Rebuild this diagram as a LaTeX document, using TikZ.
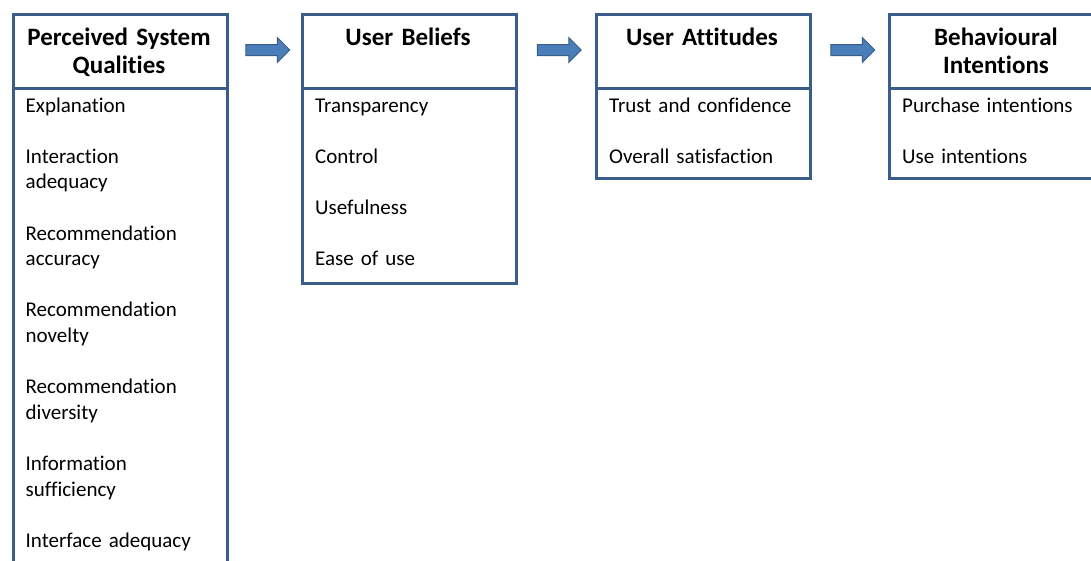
\documentclass[tikz,border=0pt]{standalone}
\usepackage{fontspec}
\setmainfont{Carlito}[Ligatures=NoCommon, WordSpace=0.85]
\usetikzlibrary{shapes.arrows}
\definecolor{bordc}{HTML}{3A5D8C}
\definecolor{arrfill}{HTML}{4A7EBB}
\definecolor{arrdraw}{HTML}{385D8A}
\tikzset{
  frame/.style={draw=bordc, line width=3pt, fill=white, inner sep=0pt, anchor=north west, minimum width=214pt},
  headtxt/.style={font=\bfseries\fontsize{25}{28.3}\selectfont, align=center, text width=205pt, anchor=base, inner sep=0pt},
  itemtxt/.style={font=\fontsize{21}{25.6}\selectfont, align=left, text width=200pt, anchor=base west, inner sep=0pt},
  flow/.style={single arrow, fill=arrfill, draw=arrdraw, line width=1pt, inner xsep=0pt, inner ysep=5pt,
    single arrow head extend=7pt, minimum height=44pt, single arrow head indent=0pt}
}
\begin{document}
\begin{tikzpicture}[x=1pt,y=-1pt]
\useasboundingbox (0,0) rectangle (1091,560);
% box 1
\node[frame, minimum height=74pt] (h1) at (12,13) {};
\node[frame, minimum height=500pt] (b1) at (12,87) {};
\node[headtxt] (t1) at (119,45) {Perceived System\\Qualities};
\node[itemtxt] (i11) at (25.5,112) {Explanation};
\node[itemtxt] (i12) at (25.5,163.2) {Interaction\\adequacy};
\node[itemtxt] (i13) at (25.5,240) {Recommendation\\accuracy};
\node[itemtxt] (i14) at (25.5,316.8) {Recommendation\\novelty};
\node[itemtxt] (i15) at (25.5,393.6) {Recommendation\\diversity};
\node[itemtxt] (i16) at (25.5,470.4) {Information\\sufficiency};
\node[itemtxt] (i17) at (25.5,547.2) {Interface adequacy};
% box 2
\node[frame, minimum height=74pt] (h2) at (301,13) {};
\node[frame, minimum height=195pt] (b2) at (301,87) {};
\node[headtxt] (t2) at (408,45) {User Beliefs};
\node[itemtxt] (i21) at (315,112) {Transparency};
\node[itemtxt] (i22) at (315,163.2) {Control};
\node[itemtxt] (i23) at (315,214.4) {Usefulness};
\node[itemtxt] (i24) at (315,265.6) {Ease of use};
% box 3
\node[frame, minimum height=74pt] (h3) at (595,13) {};
\node[frame, minimum height=90pt] (b3) at (595,87) {};
\node[headtxt] (t3) at (702,45) {User Attitudes};
\node[itemtxt] (i31) at (609,112) {Trust and confidence};
\node[itemtxt] (i32) at (609,163.2) {Overall satisfaction};
% box 4
\node[frame, minimum height=74pt] (h4) at (888,13) {};
\node[frame, minimum height=90pt] (b4) at (888,87) {};
\node[headtxt] (t4) at (996,45) {Behavioural\\Intentions};
\node[itemtxt] (i41) at (902,112) {Purchase intentions};
\node[itemtxt] (i42) at (902,163.2) {Use intentions};
% arrows
\node[flow] (a1) at (265,50) {};
\node[flow] (a2) at (556.5,50) {};
\node[flow] (a3) at (850,50) {};
\end{tikzpicture}
\end{document}
